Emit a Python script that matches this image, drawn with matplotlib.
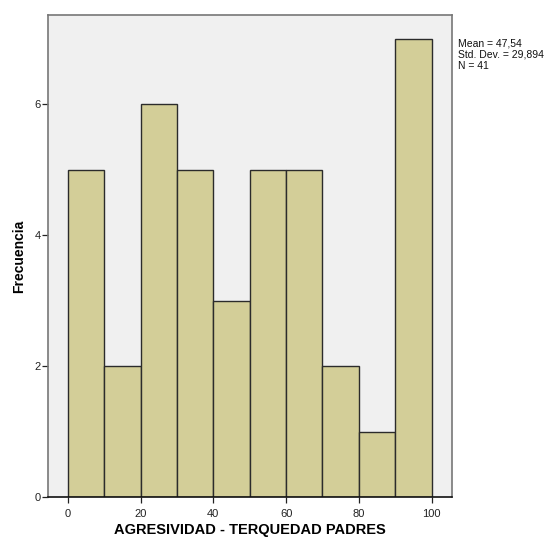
import numpy as np
import matplotlib.pyplot as plt

plt.rcParams['font.family'] = ['Liberation Sans', 'DejaVu Sans']

bin_edges = [0, 10, 20, 30, 40, 50, 60, 70, 80, 90, 100]
counts = [5, 2, 6, 5, 3, 5, 5, 2, 1, 7]
x_ticks = [0, 20, 40, 60, 80, 100]
y_ticks = [0, 2, 4, 6]
stats_text = 'Mean = 47,54\nStd. Dev. = 29,894\nN = 41'

fig = plt.figure(figsize=(5.45, 5.37), dpi=100)
ax = fig.add_axes([0.0875, 0.0745, 0.7425, 0.8983])
ax.set_facecolor('#f0f0f0')

lefts = np.array(bin_edges[:-1])
widths = np.diff(bin_edges)
ax.bar(lefts, counts, width=widths, align='edge', color='#d3ce98',
       edgecolor='#2b2b2b', linewidth=1.0, zorder=2)

ax.set_xlim(-5.55, 105.7)
ax.set_ylim(0, 7.37)
ax.set_xticks(x_ticks)
ax.set_yticks(y_ticks)
ax.tick_params(axis='both', labelsize=8, colors='#222222', length=4, width=0.9)
ax.tick_params(axis='x', pad=5)
ax.tick_params(axis='y', pad=1)

for s in ['top', 'right', 'left']:
    ax.spines[s].set_color('#777777')
    ax.spines[s].set_linewidth(1.2)
ax.spines['bottom'].set_color('#111111')
ax.spines['bottom'].set_linewidth(1.2)

# axis titles placed in figure pixels, as in the SPSS output
fig.text(250 / 545, 1 - 530 / 537, 'AGRESIVIDAD - TERQUEDAD PADRES',
         fontsize=10.5, fontweight='bold', ha='center', va='center')
fig.text(19 / 545, 1 - 256 / 537, 'Frecuencia', fontsize=10, fontweight='bold',
         rotation=90, ha='center', va='center')

fig.text(458 / 545, 1 - 38 / 537, stats_text, fontsize=7.5, va='top', ha='left',
         linespacing=1.2, color='#111111')

fig.savefig('out.png', dpi=100)
